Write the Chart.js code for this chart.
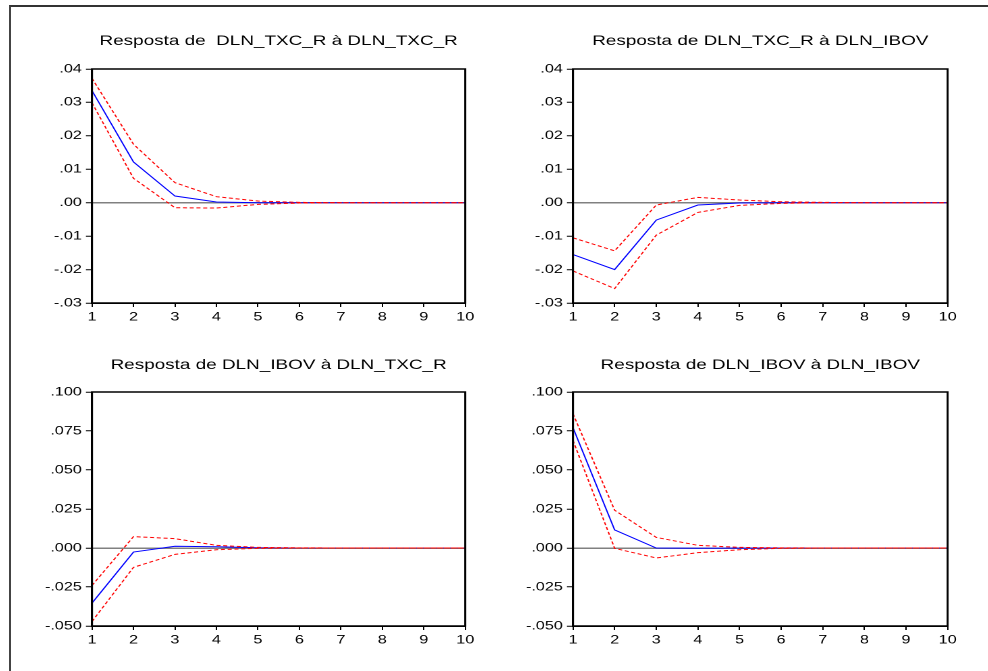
<!DOCTYPE html>
<html>
<head>
<meta charset="utf-8">
<script src="https://cdn.jsdelivr.net/npm/chart.js@4.4.1/dist/chart.umd.min.js"></script>
<style>
    body { margin: 0; background: #fff; width: 988px; height: 671px; overflow: hidden; position: relative; }
    #frame { position: absolute; left: 9px; top: 5px; width: 1000px; height: 700px; border-left: 2px solid #444; border-top: 2px solid #333; }
    .panel { position: absolute; transform-origin: 0 0; }
</style>
</head>
<body>
<div id="frame"></div>
<div class="panel" id="p1"><canvas id="c1"></canvas></div>
<div class="panel" id="p2"><canvas id="c2"></canvas></div>
<div class="panel" id="p3"><canvas id="c3"></canvas></div>
<div class="panel" id="p4"><canvas id="c4"></canvas></div>
<script>
// Horizons (periods)
const periods = ["1", "2", "3", "4", "5", "6", "7", "8", "9", "10"];

// Resposta de DLN_TXC_R à DLN_TXC_R
const txcTxc   = [0.0335, 0.0122, 0.0020, 0.0002, 0.0000, 0, 0, 0, 0, 0];
const txcTxcHi = [0.0372, 0.0175, 0.0060, 0.0018, 0.0005, 0.0001, 0, 0, 0, 0];
const txcTxcLo = [0.0299, 0.0073, -0.0015, -0.0016, -0.0005, -0.0001, 0, 0, 0, 0];

// Resposta de DLN_TXC_R à DLN_IBOV
const txcIbov   = [-0.0155, -0.0200, -0.0052, -0.0007, -0.0001, 0, 0, 0, 0, 0];
const txcIbovHi = [-0.0105, -0.0144, -0.0007, 0.0016, 0.0008, 0.0003, 0.0001, 0, 0, 0];
const txcIbovLo = [-0.0204, -0.0257, -0.0097, -0.0029, -0.0008, -0.0002, 0, 0, 0, 0];

// Resposta de DLN_IBOV à DLN_TXC_R
const ibovTxc   = [-0.0353, -0.0026, 0.0011, 0.0008, 0.0002, 0, 0, 0, 0, 0];
const ibovTxcHi = [-0.0240, 0.0073, 0.0060, 0.0017, 0.0004, 0.0001, 0, 0, 0, 0];
const ibovTxcLo = [-0.0471, -0.0124, -0.0041, -0.0011, -0.0002, 0, 0, 0, 0, 0];

// Resposta de DLN_IBOV à DLN_IBOV
const ibovIbov   = [0.0771, 0.0116, 0.0000, -0.0002, -0.0001, 0, 0, 0, 0, 0];
const ibovIbovHi = [0.0860, 0.0242, 0.0068, 0.0017, 0.0004, 0.0001, 0, 0, 0, 0];
const ibovIbovLo = [0.0689, -0.0002, -0.0064, -0.0030, -0.0011, -0.0002, 0, 0, 0, 0];

// Y axis ranges
const txcAxis  = { min: -0.03, max: 0.04, step: 0.01, decimals: 2 };
const ibovAxis = { min: -0.05, max: 0.10, step: 0.025, decimals: 3 };

// horizontal stretch of the original picture
const STRETCH = 1.35;

// panel layout in page pixels (plot box)
const panels = [
    { id: "c1", box: "p1", title: "Resposta de  DLN_TXC_R à DLN_TXC_R", irf: txcTxc, hi: txcTxcHi, lo: txcTxcLo, axis: txcAxis,
      left: 92, right: 466, top: 69, bottom: 303, titleGap: 28 },
    { id: "c2", box: "p2", title: "Resposta de DLN_TXC_R à DLN_IBOV", irf: txcIbov, hi: txcIbovHi, lo: txcIbovLo, axis: txcAxis,
      left: 573, right: 948, top: 69, bottom: 303, titleGap: 28 },
    { id: "c3", box: "p3", title: "Resposta de DLN_IBOV à DLN_TXC_R", irf: ibovTxc, hi: ibovTxcHi, lo: ibovTxcLo, axis: ibovAxis,
      left: 92, right: 466, top: 392, bottom: 626, titleGap: 27 },
    { id: "c4", box: "p4", title: "Resposta de DLN_IBOV à DLN_IBOV", irf: ibovIbov, hi: ibovIbovHi, lo: ibovIbovLo, axis: ibovAxis,
      left: 573, right: 948, top: 392, bottom: 626, titleGap: 27 }
];

// Format like EViews: .04 / -.01 / .000
function formatTick(value, decimals) {
    let s = Math.abs(value).toFixed(decimals).replace(/^0/, "");
    return (value < -1e-9 ? "-" : "") + s;
}

// Title + box around the plot area
const panelDecor = {
    id: "panelDecor",
    afterDraw(chart, args, opts) {
        const a = chart.chartArea;
        const ctx = chart.ctx;
        ctx.save();
        ctx.strokeStyle = "#000";
        ctx.lineWidth = 1.5;
        ctx.strokeRect(a.left, a.top, a.right - a.left, a.bottom - a.top);
        ctx.fillStyle = "#000";
        ctx.font = "14px 'Liberation Sans', Arial, sans-serif";
        ctx.textAlign = "center";
        ctx.textBaseline = "middle";
        ctx.fillText(opts.text, (a.left + a.right) / 2, a.top - opts.gap);
        ctx.restore();
    }
};

function buildPanel(p) {
    const padL = 72, padR = 34, padT = 49, padB = 27;
    const pageLeft = p.left - padL;
    const pageTop = p.top - padT;
    const pageW = (p.right + padR) - pageLeft;
    const pageH = (p.bottom + padB) - pageTop;

    const box = document.getElementById(p.box);
    box.style.left = pageLeft + "px";
    box.style.top = pageTop + "px";
    box.style.transform = `scaleX(${STRETCH})`;

    const canvas = document.getElementById(p.id);
    canvas.width = pageW / STRETCH;
    canvas.height = pageH;

    const ax = p.axis;

    new Chart(canvas.getContext("2d"), {
        type: "line",
        data: {
            labels: periods,
            datasets: [
                { data: p.hi, borderColor: "#ff0000", borderWidth: 1, borderDash: [3, 2], pointRadius: 0, tension: 0, fill: false },
                { data: p.lo, borderColor: "#ff0000", borderWidth: 1, borderDash: [3, 2], pointRadius: 0, tension: 0, fill: false },
                { data: p.irf, borderColor: "#0000ff", borderWidth: 1, pointRadius: 0, tension: 0, fill: false }
            ]
        },
        options: {
            responsive: false,
            animation: false,
            devicePixelRatio: 2,
            layout: { padding: { left: 0, right: padR / STRETCH, top: padT, bottom: 0 } },
            plugins: {
                legend: { display: false },
                tooltip: { enabled: false },
                panelDecor: { text: p.title, gap: p.titleGap }
            },
            scales: {
                x: {
                    offset: false,
                    grid: { drawOnChartArea: false, tickLength: 4, tickColor: "#000", tickWidth: 1 },
                    border: { display: true, color: "#000", width: 1.5 },
                    ticks: {
                        color: "#000", padding: 3, maxRotation: 0, autoSkip: false,
                        font: { family: "'Liberation Sans', Arial, sans-serif", size: 12 }
                    },
                    afterFit: (scale) => { scale.height = padB; }
                },
                y: {
                    min: ax.min,
                    max: ax.max,
                    grid: {
                        drawOnChartArea: true,
                        color: (ctx) => (ctx.tick && Math.abs(ctx.tick.value) < 1e-9 ? "#808080" : "rgba(0,0,0,0)"),
                        lineWidth: 1.5,
                        tickLength: 4.5,
                        tickColor: "#000",
                        tickWidth: 1
                    },
                    border: { display: true, color: "#000", width: 1.5 },
                    ticks: {
                        stepSize: ax.step,
                        color: "#000",
                        padding: 3,
                        font: { family: "'Liberation Sans', Arial, sans-serif", size: 12 },
                        callback: (v) => formatTick(v, ax.decimals)
                    },
                    afterFit: (scale) => { scale.width = padL / STRETCH; }
                }
            }
        },
        plugins: [panelDecor]
    });
}

panels.forEach(buildPanel);
</script>
</body>
</html>
